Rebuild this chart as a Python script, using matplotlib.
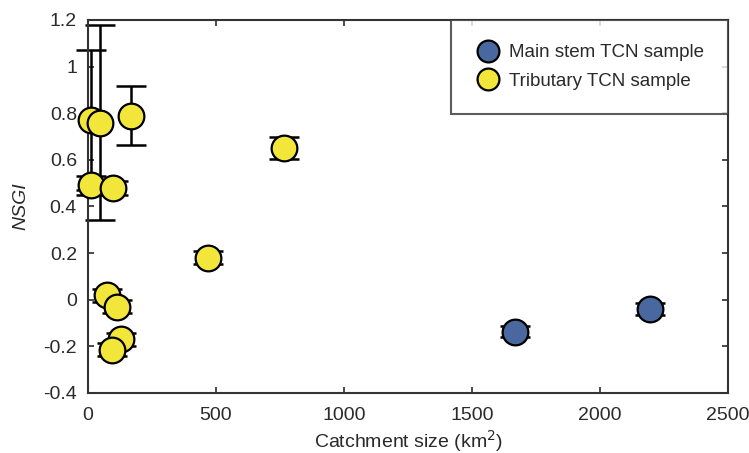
import matplotlib.pyplot as plt

plt.rcParams['font.family'] = ['Liberation Sans', 'DejaVu Sans']

# main stem samples
main_x = [1667, 2196]
main_y = [-0.137, -0.04]
main_err = [0.025, 0.025]

# tributary samples
trib_x = [10, 45, 168, 12, 98, 470, 767, 73, 113, 130, 95]
trib_y = [0.77, 0.76, 0.79, 0.49, 0.48, 0.18, 0.65, 0.02, -0.03, -0.17, -0.215]
trib_err = [0.30, 0.42, 0.127, 0.04, 0.03, 0.028, 0.047, 0.028, 0.028, 0.028, 0.028]

blue = '#4a68a0'
yellow = '#f2e63a'

fig = plt.figure(figsize=(7.49, 4.53), dpi=100)
ax = fig.add_axes([0.1175, 0.1325, 0.8545, 0.8235])

for xs, ys, es in [(trib_x, trib_y, trib_err), (main_x, main_y, main_err)]:
    eb = ax.errorbar(xs, ys, yerr=es, fmt='none', ecolor='black',
                     elinewidth=1.8, capsize=11, capthick=1.8, zorder=2)
    for art in eb.lines[1] + eb.lines[2]:
        art.set_clip_on(False)

ax.plot(main_x, main_y, 'o', ms=18.5, mfc=blue, mec='black', mew=1.6,
        ls='none', zorder=3, clip_on=False, label='Main stem TCN sample')
ax.plot(trib_x, trib_y, 'o', ms=18.5, mfc=yellow, mec='black', mew=1.6,
        ls='none', zorder=3, clip_on=False, label='Tributary TCN sample')

ax.set_xlim(0, 2500)
ax.set_ylim(-0.4, 1.2)
ax.set_xticks([0, 500, 1000, 1500, 2000, 2500])
ax.set_yticks([-0.4, -0.2, 0, 0.2, 0.4, 0.6, 0.8, 1, 1.2])
ax.set_yticklabels(['-0.4', '-0.2', '0', '0.2', '0.4', '0.6', '0.8', '1', '1.2'])
ax.tick_params(direction='in', top=True, right=True, length=4, width=1.2,
               labelsize=14, colors='#2a2a2a')
ax.tick_params(axis='x', pad=10)
ax.tick_params(axis='y', pad=8)
for s in ax.spines.values():
    s.set_linewidth(1.5)
    s.set_color('#333333')

ax.set_xlabel('Catchment size (km$^2$)', fontsize=14, color='#2a2a2a', labelpad=3)
ax.set_ylabel('NSGI', fontsize=14, style='italic', color='#2a2a2a', labelpad=10)

leg = ax.legend(loc='upper right', borderaxespad=0, fontsize=13.5, frameon=True,
                fancybox=False, edgecolor='#333333', handletextpad=0.4,
                borderpad=1.3, labelspacing=0.6, numpoints=1, markerscale=0.85,
                handlelength=1.4)
leg.get_frame().set_linewidth(1.5)
for t in leg.get_texts():
    t.set_color('#2a2a2a')

fig.savefig('out.png', dpi=100)
